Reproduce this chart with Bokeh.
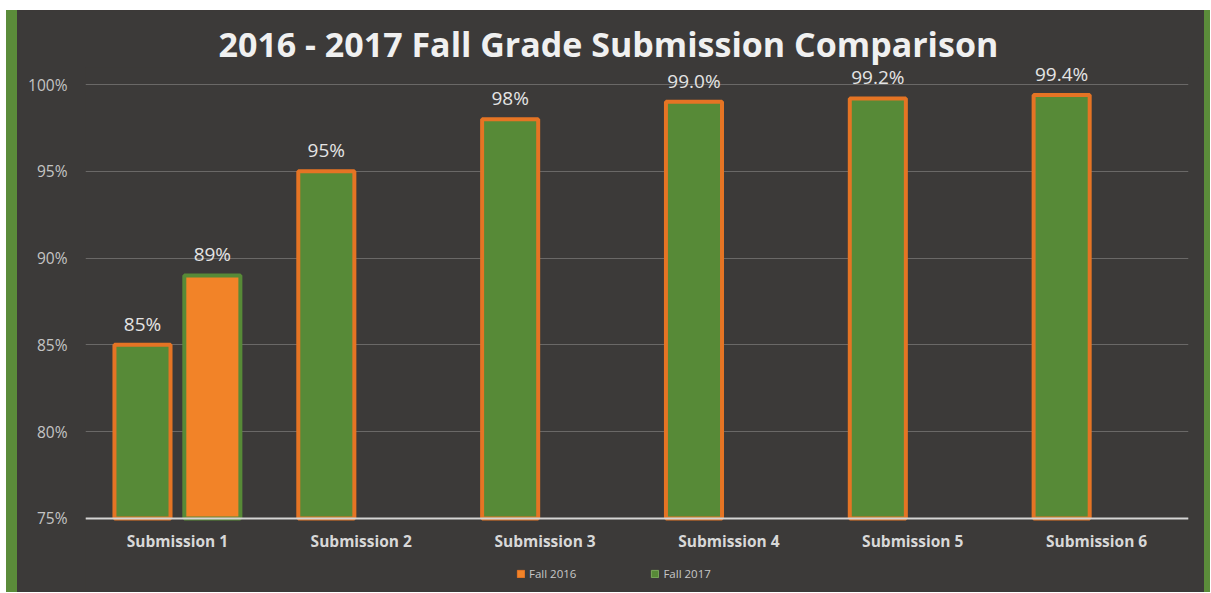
from bokeh.plotting import figure
from bokeh.models import (FactorRange, Range1d, FixedTicker, PrintfTickFormatter,
                          Legend, LegendItem, ColumnDataSource, Div, Title)
from bokeh.transform import dodge
from bokeh.layouts import row
from bokeh.core.properties import value
from bokeh.embed import file_html
from bokeh.resources import INLINE

# ---- data ----
categories = ["Submission 1", "Submission 2", "Submission 3",
              "Submission 4", "Submission 5", "Submission 6"]
fall_2017 = [85, 95, 98, 99.0, 99.2, 99.4]
fall_2017_labels = ["85%", "95%", "98%", "99.0%", "99.2%", "99.4%"]
fall_2016 = [89, None, None, None, None, None]
fall_2016_labels = ["89%", None, None, None, None, None]
y_ticks = [75, 80, 85, 90, 95, 100]
title_text = "2016 - 2017 Fall Grade Submission Comparison"

# ---- style ----
BG = "#3c3a39"
GREEN = "#578a37"
ORANGE = "#e57424"
ORANGE_FILL = "#f28328"
BORDER_GREEN = "#5b8c3a"
TXT = "#e4e4e4"
FONT = "Open Sans"


def build_source(cats, vals, labels):
    xs, ys, ts = [], [], []
    for c, v, t in zip(cats, vals, labels):
        if v is not None:
            xs.append(c)
            ys.append(v)
            ts.append(t)
    return ColumnDataSource(dict(cat=xs, val=ys, label=ts))


src_green = build_source(categories, fall_2017, fall_2017_labels)
src_orange = build_source(categories, fall_2016, fall_2016_labels)

p = figure(width=1187, height=582,
           x_range=FactorRange(*categories),
           y_range=Range1d(70.73, 100.98),
           output_backend="svg", toolbar_location=None,
           background_fill_color=BG, border_fill_color=BG,
           min_border_left=68, min_border_right=16,
           min_border_top=57, min_border_bottom=0)
p.margin = (10, 0, 0, 0)
p.styles = {"background-color": BG}
p.outline_line_color = None

p.title.text = title_text
p.title.align = "left"
p.title.offset = 133
p.title.text_font = FONT
p.title.text_font_style = "bold"
p.title.text_font_size = "34px"
p.title.text_color = "#f0f0f0"
p.title.standoff = 2
p.add_layout(Title(text=".", text_font_size="5px", text_alpha=0, standoff=0), "above")

# bars
r_green = p.vbar(x=dodge("cat", -0.19, range=p.x_range), top="val", bottom=75,
                 width=0.305, source=src_green,
                 fill_color=GREEN, line_color=ORANGE, line_width=4)
r_orange = p.vbar(x=dodge("cat", 0.19, range=p.x_range), top="val", bottom=75,
                  width=0.305, source=src_orange,
                  fill_color=ORANGE_FILL, line_color=GREEN, line_width=4)

# value labels
for src, off in ((src_green, -0.19), (src_orange, 0.19)):
    p.text(x=dodge("cat", off, range=p.x_range), y="val", text="label", source=src,
           text_align="center", text_baseline="middle", y_offset=-21,
           text_color=TXT, text_font=value(FONT), text_font_size="19px")

# axes
p.xaxis.fixed_location = 75
p.xaxis.axis_line_color = "#d4d4d4"
p.xaxis.axis_line_width = 2
p.xaxis.major_tick_line_color = None
p.xaxis.minor_tick_line_color = None
p.xaxis.major_label_text_color = "#d8d8d8"
p.xaxis.major_label_text_font = FONT
p.xaxis.major_label_text_font_style = "bold"
p.xaxis.major_label_text_font_size = "15.5px"
p.xaxis.major_label_standoff = 6

p.yaxis.axis_line_color = None
p.yaxis.major_tick_line_color = None
p.yaxis.minor_tick_line_color = None
p.yaxis.ticker = FixedTicker(ticks=y_ticks)
p.yaxis.formatter = PrintfTickFormatter(format="%d%%")
p.yaxis.major_label_text_color = "#c4c4c4"
p.yaxis.major_label_text_font = FONT
p.yaxis.major_label_text_font_size = "15.5px"
p.yaxis.major_label_standoff = 12

p.xgrid.grid_line_color = None
p.ygrid.ticker = FixedTicker(ticks=y_ticks)
p.ygrid.grid_line_color = "#6a6867"
p.ygrid.grid_line_width = 1

# legend swatches: zero-height bars hidden under the axis line
lg_2016 = p.vbar(x=dodge("cat", 0.19, range=p.x_range), top=75, bottom=75, width=0.305,
                 source=src_orange, fill_color=ORANGE_FILL, line_color=ORANGE, line_width=1)
lg_2017 = p.vbar(x=dodge("cat", -0.19, range=p.x_range), top=75, bottom=75, width=0.305,
                 source=src_green, fill_color=GREEN, line_color="#7aa85a", line_width=1)
legend = Legend(items=[LegendItem(label="Fall 2016", renderers=[lg_2016]),
                       LegendItem(label="Fall 2017", renderers=[lg_2017])],
                orientation="horizontal", location=(431, 11),
                background_fill_alpha=0, border_line_color=None,
                label_text_color="#c8c8c8", label_text_font=FONT,
                label_text_font_size="11.5px", label_height=16,
                glyph_width=9, glyph_height=9,
                spacing=74, label_standoff=4, padding=2, margin=0)
p.add_layout(legend, "center")

left = Div(text="", width=11, height=582, margin=(10, 0, 0, 6),
           styles={"background-color": BORDER_GREEN})
right = Div(text="", width=6, height=582, margin=(10, 0, 0, 0),
            styles={"background-color": BORDER_GREEN})
layout = row(left, p, right, spacing=0)

open("out.html", "w").write(file_html(layout, INLINE))
